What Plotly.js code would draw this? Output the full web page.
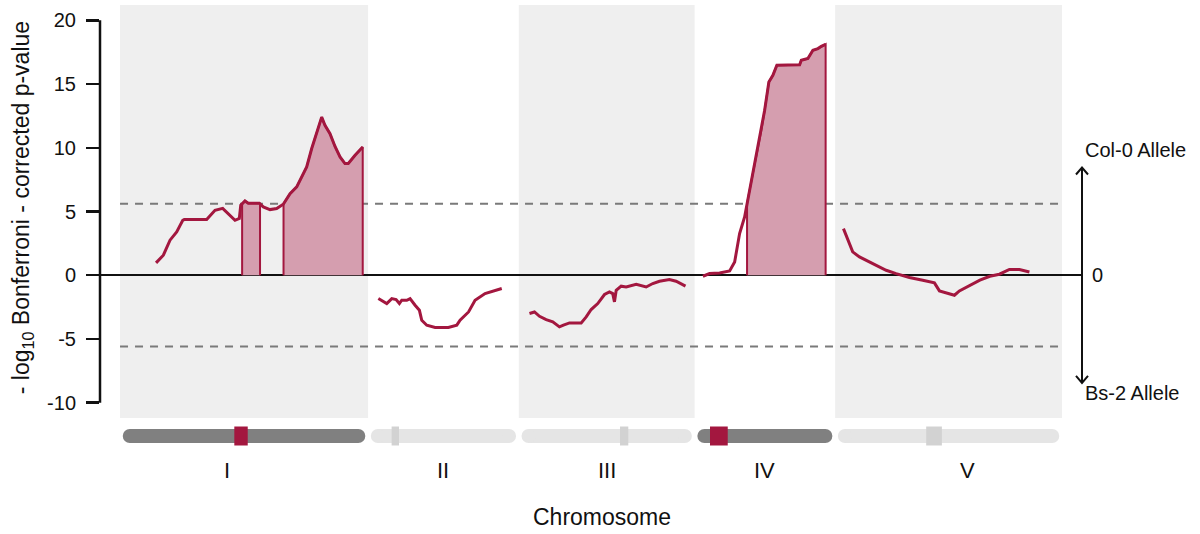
<!DOCTYPE html>
<html><head><meta charset="utf-8">
<script src="https://cdn.plot.ly/plotly-3.0.1.min.js"></script>
<style>html,body{margin:0;padding:0;background:#fff}</style>
</head><body><div id="chart" style="width:1200px;height:534px"></div>
<script>
// ---------------- data ----------------
const chromosomes = ['I', 'II', 'III', 'IV', 'V'];
const chrLength = [31.6, 19.2, 22.4, 17.9, 28.9];          // Mb (as drawn)
const centromereStart = [14.56, 3.0, 12.9, 1.96, 11.6];
const centromereEnd = [16.27, 3.94, 13.95, 4.22, 13.6];
const labelPos = [13.6, 9.5, 11.2, 8.9, 16.8];               // label position within chromosome
const threshold = 5.6;
const yTickVals = [-10, -5, 0, 5, 10, 15, 20];
const yTickText = ['-10', '-5', '0', '5', '10', '15', '20'];

const chrI_pos = [4.59,5.52,6.37,7.22,7.99,8.19,11.04,11.38,12.10,13.08,13.80,14.65,15.20,15.38,15.92,16.34,17.75,18.25,19.11,19.96,20.80,21.66,22.51,23.15,23.78,24.42,25.06,25.69,26.11,26.75,27.39,28.03,28.66,29.08,29.94,30.92];
const chrI_val = [0.97,1.57,2.75,3.4,4.3,4.37,4.37,4.6,5.1,5.25,4.84,4.31,4.45,5.49,5.83,5.65,5.65,5.36,5.15,5.23,5.57,6.4,6.93,7.7,8.5,9.94,11.1,12.4,11.76,11.1,10.1,9.28,8.76,8.76,9.41,10.06];

const chrII_pos = [1.31,1.95,2.38,3.02,3.57,3.99,4.29,4.93,5.35,5.99,6.54,6.84,7.48,8.54,10.23,11.30,11.72,12.80,13.63,14.90,15.96,17.03];
const chrII_val = [-1.83,-2.09,-2.22,-1.83,-1.91,-2.22,-1.96,-1.96,-1.83,-2.35,-2.75,-3.53,-3.92,-4.1,-4.1,-3.92,-3.53,-2.88,-1.96,-1.44,-1.23,-1.04];

const chrIII_pos = [1.36,2.00,2.64,3.49,4.33,5.18,5.69,6.46,7.95,8.59,9.22,10.06,10.92,11.55,11.97,12.19,12.41,13.04,13.68,14.52,14.96,16.23,17.07,17.92,19.19,20.04,21.24];
const chrIII_val = [-3.0,-2.88,-3.22,-3.48,-3.66,-4.05,-3.92,-3.74,-3.74,-3.27,-2.69,-2.22,-1.51,-1.31,-1.44,-2.09,-1.18,-0.86,-0.92,-0.78,-0.71,-0.92,-0.65,-0.47,-0.34,-0.47,-0.86];

const chrIV_pos = [1.06,1.91,3.18,4.46,5.10,5.73,6.37,6.92,7.43,8.06,8.50,8.92,9.46,9.97,10.48,13.38,13.59,14.43,15.07,15.71,16.14,16.69];
const chrIV_val = [-0.08,0.13,0.18,0.34,1.04,3.27,4.57,6.4,7.97,10.2,11.37,12.94,15.16,15.69,16.47,16.52,16.86,17.0,17.65,17.78,17.96,18.12];

const chrV_pos = [1.06,1.61,2.24,3.10,4.79,6.50,7.77,9.46,11.16,12.65,13.29,14.34,15.20,15.83,17.18,18.44,19.71,20.93,22.20,23.48,24.75];
const chrV_val = [3.66,2.75,1.83,1.44,0.92,0.39,0.13,-0.18,-0.39,-0.6,-1.23,-1.44,-1.57,-1.23,-0.78,-0.39,-0.08,0.08,0.45,0.45,0.26];

// ---------------- build ----------------
const positions = [chrI_pos, chrII_pos, chrIII_pos, chrIV_pos, chrV_pos];
const values = [chrI_val, chrII_val, chrIII_val, chrIV_val, chrV_val];

const chrStart = [];
let acc = 0;
chrLength.forEach(l => { chrStart.push(acc); acc += l; });
const genomeEnd = acc;

const LINE = '#a3173f', FILL = '#d59eaf', BAND = '#efefef';
const FONT = 'Liberation Sans, Arial, Helvetica, sans-serif';

const W = 1200, H = 534;
const M = {l: 100, r: 118, t: 5, b: 116};
const xRange = [-2.55, 122.55];
const yRange = [-11.2, 21.2];
const plotW = W - M.l - M.r, plotH = H - M.t - M.b;
const ppu = plotW / (xRange[1] - xRange[0]);
const barY = -18 / plotH;           // bar centre, paper units below plot area
const arrowTip = 8.45;              // allele arrow extent in y units

function aboveSegments(xs, ys, thr) {
  const segs = []; let cur = null;
  for (let i = 0; i < xs.length; i++) {
    if (ys[i] >= thr) {
      if (!cur) {
        cur = {x: [], y: []};
        if (i > 0) {
          const t = (thr - ys[i-1]) / (ys[i] - ys[i-1]);
          const xc = xs[i-1] + t * (xs[i] - xs[i-1]);
          cur.x.push(xc, xc); cur.y.push(0, thr);
        } else { cur.x.push(xs[i]); cur.y.push(0); }
      }
      cur.x.push(xs[i]); cur.y.push(ys[i]);
    } else if (cur) {
      const t = (thr - ys[i-1]) / (ys[i] - ys[i-1]);
      const xc = xs[i-1] + t * (xs[i] - xs[i-1]);
      cur.x.push(xc, xc); cur.y.push(thr, 0);
      segs.push(cur); cur = null;
    }
  }
  if (cur) { const lx = cur.x[cur.x.length-1]; cur.x.push(lx); cur.y.push(0); segs.push(cur); }
  return segs;
}

const traces = [];
const highlight = [];
positions.forEach((p, i) => {
  const gx = p.map(v => v + chrStart[i]);
  const segs = aboveSegments(gx, values[i], threshold);
  highlight.push(segs.length > 0);
  segs.forEach(s => traces.push({
    type: 'scatter', mode: 'lines', x: s.x, y: s.y, fill: 'tozeroy',
    fillcolor: FILL, line: {color: LINE, width: 2}, hoverinfo: 'skip', showlegend: false
  }));
});
positions.forEach((p, i) => {
  traces.push({
    type: 'scatter', mode: 'lines', name: chromosomes[i],
    x: p.map(v => v + chrStart[i]), y: values[i],
    line: {color: LINE, width: 3}, showlegend: false
  });
});

const shapes = [];
// alternating background bands
chromosomes.forEach((c, i) => {
  if (i % 2 === 0) shapes.push({type: 'rect', layer: 'below', xref: 'x', yref: 'paper',
    x0: chrStart[i], x1: chrStart[i] + chrLength[i], y0: 0, y1: 1, fillcolor: BAND, line: {width: 0}});
});
// significance thresholds
[threshold, -threshold].forEach(t => shapes.push({type: 'line', layer: 'below', xref: 'x', yref: 'y',
  x0: 0, x1: genomeEnd, y0: t, y1: t, line: {color: '#7a7a7a', width: 2, dash: '8px,7px'}}));
// y axis line (only over the tick range)
shapes.push({type: 'line', xref: 'paper', yref: 'y', x0: 0, x1: 0,
  y0: yTickVals[0], y1: yTickVals[yTickVals.length-1], line: {color: '#111', width: 2.5}});
// allele direction double arrow
shapes.push({type: 'line', xref: 'paper', yref: 'y', x0: 1, x1: 1, y0: -arrowTip, y1: arrowTip,
  line: {color: '#111', width: 2}});
shapes.push({type: 'path', xref: 'paper', yref: 'y', xsizemode: 'pixel', ysizemode: 'pixel',
  xanchor: 1, yanchor: arrowTip, path: 'M-6,-7L0,0L6,-7', fillcolor: 'rgba(0,0,0,0)',
  line: {color: '#111', width: 2}});
shapes.push({type: 'path', xref: 'paper', yref: 'y', xsizemode: 'pixel', ysizemode: 'pixel',
  xanchor: 1, yanchor: -arrowTip, path: 'M-6,7L0,0L6,7', fillcolor: 'rgba(0,0,0,0)',
  line: {color: '#111', width: 2}});
// chromosome ideograms
const pad = 0.35, r = 7;
chromosomes.forEach((c, i) => {
  const s = chrStart[i] + pad, e = chrStart[i] + chrLength[i] - pad;
  const col = highlight[i] ? '#808080' : '#e5e5e5';
  const common = {yref: 'paper', ysizemode: 'pixel', yanchor: barY, y0: -r, y1: r, fillcolor: col, line: {width: 0}};
  shapes.push(Object.assign({type: 'rect', xref: 'x', x0: s + r / ppu, x1: e - r / ppu}, common));
  shapes.push(Object.assign({type: 'circle', xref: 'x', xsizemode: 'pixel', xanchor: s, x0: 0, x1: 2 * r}, common));
  shapes.push(Object.assign({type: 'circle', xref: 'x', xsizemode: 'pixel', xanchor: e, x0: -2 * r, x1: 0}, common));
  shapes.push({type: 'rect', xref: 'x', yref: 'paper', ysizemode: 'pixel', yanchor: barY, y0: -9.5, y1: 9.5,
    x0: chrStart[i] + centromereStart[i], x1: chrStart[i] + centromereEnd[i],
    fillcolor: highlight[i] ? LINE : '#d2d2d2', line: {width: 0}});
});

const annotations = [];
chromosomes.forEach((c, i) => annotations.push({
  xref: 'x', yref: 'paper', x: chrStart[i] + labelPos[i], y: -52 / plotH, yanchor: 'middle',
  text: c, showarrow: false, font: {family: FONT, size: 22, color: '#111'}
}));
annotations.push({xref: 'paper', yref: 'paper', x: 0.511, y: -99 / plotH, yanchor: 'middle',
  text: 'Chromosome', showarrow: false, font: {family: FONT, size: 23, color: '#111'}});
annotations.push({xref: 'paper', yref: 'paper', x: -78 / plotW, y: 0.508, xanchor: 'center', yanchor: 'middle',
  textangle: -90, text: '- log<sub>10</sub> Bonferroni - corrected p-value', showarrow: false,
  font: {family: FONT, size: 23, color: '#111'}});
annotations.push({xref: 'paper', yref: 'y', x: 1, xshift: 1, xanchor: 'left', y: 9.8, yanchor: 'middle',
  text: 'Col-0 Allele', showarrow: false, font: {family: FONT, size: 20, color: '#111'}});
annotations.push({xref: 'paper', yref: 'y', x: 1, xshift: 8, xanchor: 'left', y: 0, yanchor: 'middle',
  text: '0', showarrow: false, font: {family: FONT, size: 20, color: '#111'}});
annotations.push({xref: 'paper', yref: 'y', x: 1, xshift: 1, xanchor: 'left', y: -9.2, yanchor: 'middle',
  text: 'Bs-2 Allele', showarrow: false, font: {family: FONT, size: 20, color: '#111'}});

const layout = {
  width: W, height: H, margin: M,
  paper_bgcolor: '#fff', plot_bgcolor: '#fff',
  font: {family: FONT, color: '#111'},
  showlegend: false,
  xaxis: {range: xRange, showgrid: false, zeroline: false, showticklabels: false, ticks: '', showline: false, fixedrange: true},
  yaxis: {range: yRange, tickvals: yTickVals, ticktext: yTickText, ticks: 'outside', ticklen: 13, tickwidth: 2.5,
    tickcolor: '#111', showgrid: false, zeroline: true, zerolinecolor: '#111', zerolinewidth: 2,
    showline: false, layer: 'above traces', ticklabelstandoff: 6,
    tickfont: {family: FONT, size: 20, color: '#111'}, fixedrange: true},
  shapes: shapes,
  annotations: annotations
};

Plotly.newPlot('chart', traces, layout, {displayModeBar: false, staticPlot: true});
</script>
</body></html>
